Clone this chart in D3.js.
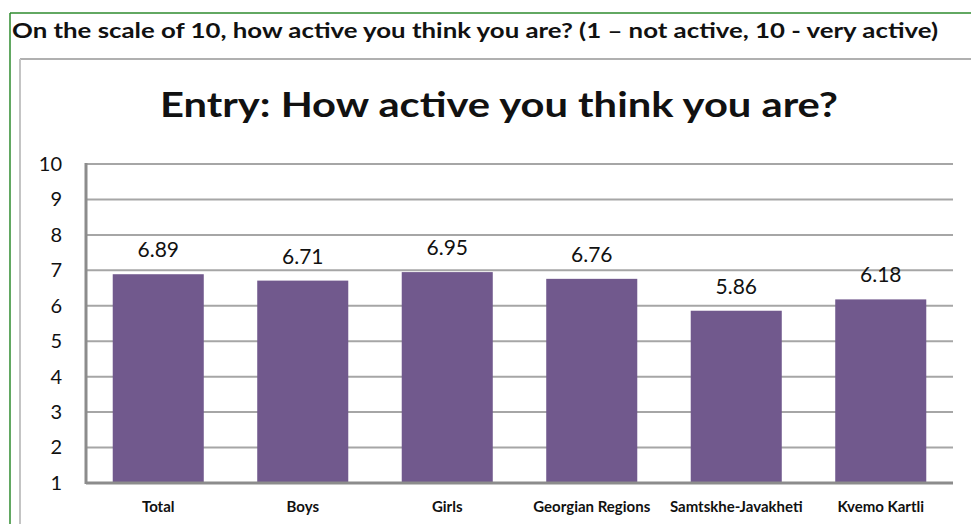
<!DOCTYPE html>
<html>
<head>
<meta charset="utf-8">
<script src="https://cdn.jsdelivr.net/npm/d3@7"></script>
<style>
  html, body { margin: 0; padding: 0; background: #fff; }
  svg { display: block; }
  text { font-family: Lato, "Open Sans", sans-serif; }
</style>
</head>
<body>
<svg id="chart" width="971" height="524"></svg>
<script>
// Self-rated activity on a 1–10 scale
const categories = ["Total", "Boys", "Girls", "Georgian Regions", "Samtskhe-Javakheti", "Kvemo Kartli"];
const values = [6.89, 6.71, 6.95, 6.76, 5.86, 6.18];
const tickValues = [1, 2, 3, 4, 5, 6, 7, 8, 9, 10];

const heading = "On the scale of 10, how active you think you are? (1 \u2013 not active, 10 - very active)";
const title = "Entry: How active you think you are?";

const svg = d3.select("#chart");
const W = 971, H = 524;

const plot = { left: 86, right: 953, top: 164, bottom: 483 };

// outer green frame
svg.append("line").attr("x1", 10).attr("x2", W).attr("y1", 13).attr("y2", 13)
  .attr("stroke", "#2e8b2e").attr("stroke-width", 1.5);
svg.append("line").attr("x1", 10).attr("x2", 10).attr("y1", 13).attr("y2", H)
  .attr("stroke", "#2e8b2e").attr("stroke-width", 1.5);

// inner gray chart frame
svg.append("line").attr("x1", 20).attr("x2", W).attr("y1", 59).attr("y2", 59)
  .attr("stroke", "#b0b0b0").attr("stroke-width", 2);
svg.append("line").attr("x1", 20).attr("x2", 20).attr("y1", 59).attr("y2", H)
  .attr("stroke", "#c4c4c4").attr("stroke-width", 2);

// heading
svg.append("text")
  .attr("x", 12).attr("y", 38)
  .attr("font-size", 21).attr("font-weight", "bold").attr("fill", "#111")
  .attr("textLength", 926).attr("lengthAdjust", "spacingAndGlyphs")
  .text(heading);

// chart title
svg.append("text")
  .attr("x", 499).attr("y", 117)
  .attr("text-anchor", "middle")
  .attr("font-size", 35).attr("font-weight", "bold").attr("fill", "#111")
  .attr("textLength", 678).attr("lengthAdjust", "spacingAndGlyphs")
  .text(title);

const x = d3.scaleBand()
  .domain(categories)
  .range([plot.left, plot.right])
  .paddingInner(0.37)
  .paddingOuter(0.185);

const y = d3.scaleLinear()
  .domain([1, 10])
  .range([plot.bottom, plot.top]);

// horizontal gridlines
svg.append("g")
  .selectAll("line")
  .data(tickValues)
  .join("line")
  .attr("x1", plot.left).attr("x2", plot.right)
  .attr("y1", d => y(d)).attr("y2", d => y(d))
  .attr("stroke", "#a6a6a6").attr("stroke-width", 2);

// y axis labels
const yAxis = d3.axisLeft(y).tickValues(tickValues).tickSize(0).tickPadding(24);
const gy = svg.append("g").attr("transform", `translate(${plot.left},0)`).call(yAxis);
gy.select(".domain").remove();
gy.selectAll("text")
  .attr("font-size", 20).attr("fill", "#111")
  .style("font-family", "Lato, sans-serif");

// bars
svg.append("g")
  .selectAll("rect")
  .data(values)
  .join("rect")
  .attr("x", (d, i) => x(categories[i]))
  .attr("width", x.bandwidth())
  .attr("y", d => y(d))
  .attr("height", d => y(1) - y(d))
  .attr("fill", "#71598d");

// value labels
svg.append("g")
  .selectAll("text")
  .data(values)
  .join("text")
  .attr("x", (d, i) => x(categories[i]) + x.bandwidth() / 2)
  .attr("y", d => y(d) - 17)
  .attr("text-anchor", "middle")
  .attr("font-size", 21).attr("fill", "#111")
  .text(d => d.toFixed(2));

// axis lines
svg.append("line").attr("x1", plot.left).attr("x2", plot.left)
  .attr("y1", plot.top - 1).attr("y2", plot.bottom + 1)
  .attr("stroke", "#8c8c8c").attr("stroke-width", 3);
svg.append("line").attr("x1", plot.left).attr("x2", plot.right)
  .attr("y1", plot.bottom).attr("y2", plot.bottom)
  .attr("stroke", "#8c8c8c").attr("stroke-width", 3);

// category labels
const xAxis = d3.axisBottom(x).tickSize(0).tickPadding(18);
const gx = svg.append("g").attr("transform", `translate(0,${plot.bottom})`).call(xAxis);
gx.select(".domain").remove();
gx.selectAll("text")
  .attr("font-size", 15).attr("font-weight", "bold").attr("fill", "#111")
  .style("font-family", "Lato, sans-serif");
</script>
</body>
</html>
